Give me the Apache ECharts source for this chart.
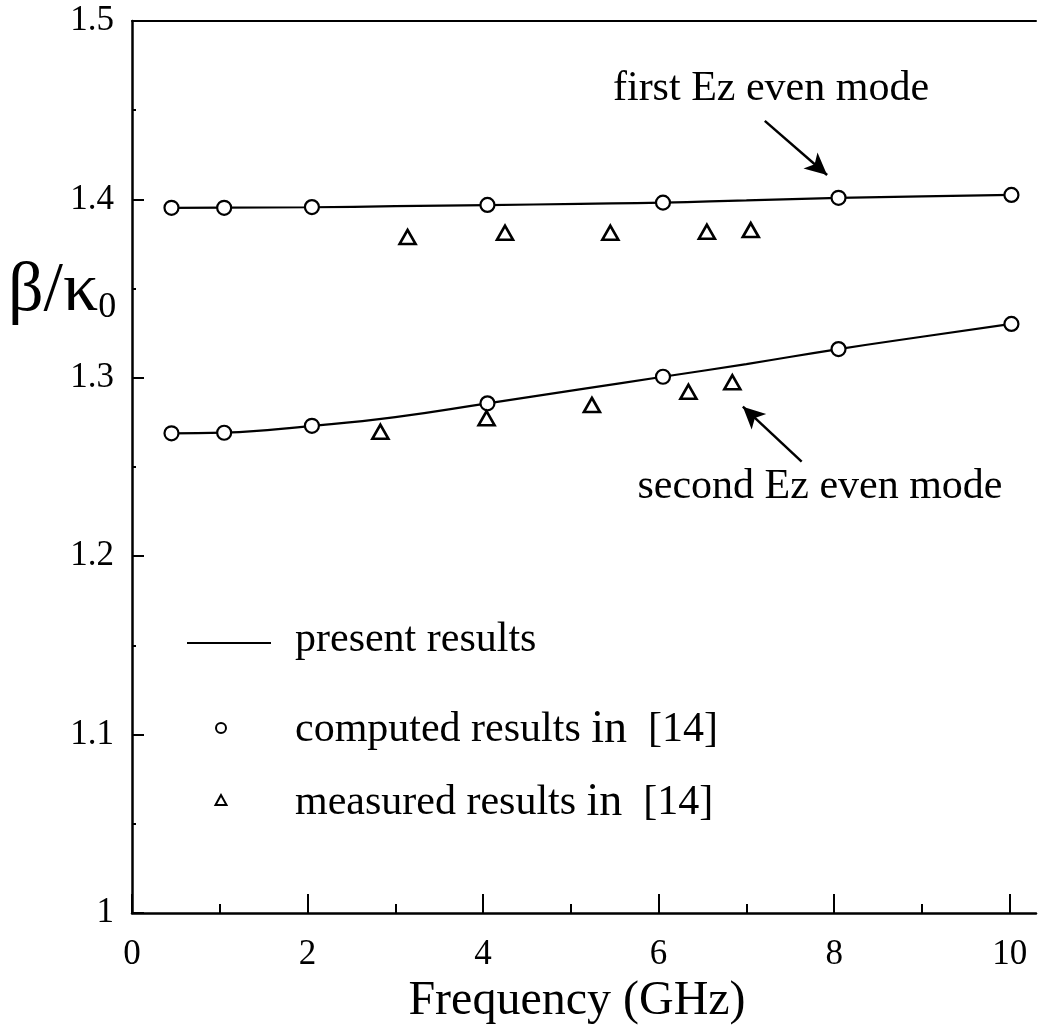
<!DOCTYPE html>
<html>
<head>
<meta charset="utf-8">
<script src="https://cdn.jsdelivr.net/npm/echarts@6/dist/echarts.min.js"></script>
<style>
html,body{margin:0;padding:0;background:#fff;}
#chart{width:1038px;height:1030px;}
</style>
</head>
<body>
<div id="chart"></div>
<script>
// ---- data ----
const freqComputed   = [0.45, 1.05, 2.05, 4.05, 6.05, 8.05, 10.02];
const firstComputed  = [1.3953, 1.3953, 1.3957, 1.3969, 1.3982, 1.4009, 1.4025];
const secondComputed = [1.2689, 1.2692, 1.2731, 1.2857, 1.3006, 1.3161, 1.3302];

const freqLine   = [0.45, 1.05, 2.05, 3.0, 4.05, 5.1, 6.05, 7.0, 8.05, 9.0, 10.02];
const firstLine  = [1.3953, 1.3954, 1.3956, 1.3962, 1.3968, 1.3975, 1.3982, 1.3995, 1.4008, 1.4017, 1.4025];
const secondLine = [1.2689, 1.2693, 1.2731, 1.2780, 1.2857, 1.2935, 1.3006, 1.3077, 1.3161, 1.3230, 1.3302];

const freqMeasFirst  = [3.14, 4.25, 5.45, 6.55, 7.05];
const measFirst      = [1.3789, 1.3813, 1.3813, 1.3819, 1.3828];
const freqMeasSecond = [2.83, 4.04, 5.24, 6.34, 6.84];
const measSecond     = [1.2698, 1.2773, 1.2848, 1.2922, 1.2975];

const xMajorTicks = [0, 2, 4, 6, 8, 10];
const xMinorTicks = [1, 3, 5, 7, 9];

// annotation arrows (data coordinates: [from, to])
const arrowFirst  = [[7.21, 1.444], [7.92, 1.4137]];
const arrowSecond = [[7.63, 1.253], [6.96, 1.2838]];

const pair = (xs, ys) => xs.map((x, i) => [x, ys[i]]);

const FONT = '"Liberation Serif", "Times New Roman", serif';
const chart = echarts.init(document.getElementById('chart'), null, {renderer: 'canvas'});

const lineStyle = {color: '#000', width: 2.2};
const circleStyle = {color: '#fff', borderColor: '#000', borderWidth: 2.2, opacity: 1};
const triStyle = {color: 'rgba(255,255,255,0)', borderColor: '#000', borderWidth: 2.6, opacity: 1};
const option = {
  backgroundColor: '#fff',
  animation: false,
  grid: {left: 132, top: 21, right: 2, bottom: 117},
  xAxis: [
    {
      type: 'value', min: 0, max: 10.3, position: 'bottom',
      axisLine: {show: true, lineStyle: {color: '#000', width: 2.5}},
      axisTick: {show: true, inside: true, length: 19, lineStyle: {color: '#000', width: 2}, customValues: xMajorTicks},
      axisLabel: {show: true, customValues: xMajorTicks, margin: 24, color: '#000', fontFamily: FONT, fontSize: 35},
      splitLine: {show: false},
      name: 'Frequency (GHz)', nameLocation: 'middle', nameGap: 60,
      nameTextStyle: {color: '#000', fontFamily: FONT, fontSize: 48, padding: [0, 14, 0, 0]}
    },
    {
      type: 'value', min: 0, max: 10.3, position: 'bottom',
      axisLine: {show: false},
      axisTick: {show: true, inside: true, length: 9, lineStyle: {color: '#000', width: 2}, customValues: xMinorTicks},
      axisLabel: {show: false},
      splitLine: {show: false}
    },
    {
      type: 'value', min: 0, max: 10.3, position: 'top',
      axisLine: {show: true, lineStyle: {color: '#000', width: 2}},
      axisTick: {show: false}, axisLabel: {show: false}, splitLine: {show: false}
    }
  ],
  yAxis: {
    type: 'value', min: 1, max: 1.5, interval: 0.1,
    axisLine: {show: true, lineStyle: {color: '#000', width: 2.5}},
    axisTick: {show: true, inside: true, length: 12, lineStyle: {color: '#000', width: 2}},
    minorTick: {show: true, splitNumber: 2, length: 4, lineStyle: {color: '#000', width: 2}},
    axisLabel: {
      margin: 18, color: '#000', fontFamily: FONT, fontSize: 35,
      formatter: v => (Math.abs(v - 1) < 1e-9 ? '1' : v.toFixed(1))
    },
    splitLine: {show: false}
  },
  series: [
    {
      name: 'present results (first)', type: 'line', smooth: true, showSymbol: false,
      data: pair(freqLine, firstLine), lineStyle: lineStyle, z: 2,
      markLine: {
        silent: true, symbol: ['none', 'arrow'], symbolSize: [16, 22],
        lineStyle: {color: '#000', width: 2.5, type: 'solid'}, label: {show: false},
        data: [
          [{coord: arrowFirst[0]}, {coord: arrowFirst[1]}],
          [{coord: arrowSecond[0]}, {coord: arrowSecond[1]}]
        ]
      }
    },
    {
      name: 'present results (second)', type: 'line', smooth: true, showSymbol: false,
      data: pair(freqLine, secondLine), lineStyle: lineStyle, z: 2
    },
    {
      name: 'computed results (first)', type: 'scatter', symbol: 'circle', symbolSize: 14,
      data: pair(freqComputed, firstComputed), itemStyle: circleStyle, z: 3
    },
    {
      name: 'computed results (second)', type: 'scatter', symbol: 'circle', symbolSize: 14,
      data: pair(freqComputed, secondComputed), itemStyle: circleStyle, z: 3
    },
    {
      name: 'measured results (first)', type: 'scatter', symbol: 'triangle', symbolSize: [16, 14],
      data: pair(freqMeasFirst, measFirst), itemStyle: triStyle, z: 4
    },
    {
      name: 'measured results (second)', type: 'scatter', symbol: 'triangle', symbolSize: [16, 14],
      data: pair(freqMeasSecond, measSecond), itemStyle: triStyle, z: 4
    }
  ],
  graphic: [
    // y axis name
    {
      type: 'text', x: 8, y: 292,
      style: {
        text: '{g|β/κ}{s|0}', verticalAlign: 'middle', fill: '#000',
        rich: {
          g: {fontFamily: FONT, fontSize: 70, fill: '#000'},
          s: {fontFamily: FONT, fontSize: 36, fill: '#000', padding: [32, 0, 0, 0]}
        }
      }
    },
    // annotations
    {type: 'text', x: 771, y: 89, style: {text: 'first Ez even mode', align: 'center', verticalAlign: 'middle', font: '42px ' + FONT, fill: '#000'}},
    {type: 'text', x: 820, y: 487, style: {text: 'second Ez even mode', align: 'center', verticalAlign: 'middle', font: '42px ' + FONT, fill: '#000'}},
    // legend
    {type: 'line', shape: {x1: 187, y1: 643, x2: 271, y2: 643}, style: {stroke: '#000', lineWidth: 2}},
    {type: 'text', x: 295, y: 640, style: {text: 'present results', verticalAlign: 'middle', font: '42px ' + FONT, fill: '#000'}},
    {type: 'circle', shape: {cx: 221, cy: 728, r: 5}, style: {fill: '#fff', stroke: '#000', lineWidth: 2}},
    {
      type: 'text', x: 295, y: 730,
      style: {
        text: '{a|computed results }{b|in}{a|  [14]}', verticalAlign: 'middle', fill: '#000',
        rich: {a: {fontFamily: FONT, fontSize: 42, fill: '#000'}, b: {fontFamily: FONT, fontSize: 46, fill: '#000'}}
      }
    },
    {type: 'polygon', shape: {points: [[221, 795], [215.5, 805], [226.5, 805]]}, style: {fill: '#fff', stroke: '#000', lineWidth: 2}},
    {
      type: 'text', x: 295, y: 803,
      style: {
        text: '{a|measured results }{b|in}{a|  [14]}', verticalAlign: 'middle', fill: '#000',
        rich: {a: {fontFamily: FONT, fontSize: 42, fill: '#000'}, b: {fontFamily: FONT, fontSize: 46, fill: '#000'}}
      }
    }
  ]
};
chart.setOption(option);
</script>
</body>
</html>
